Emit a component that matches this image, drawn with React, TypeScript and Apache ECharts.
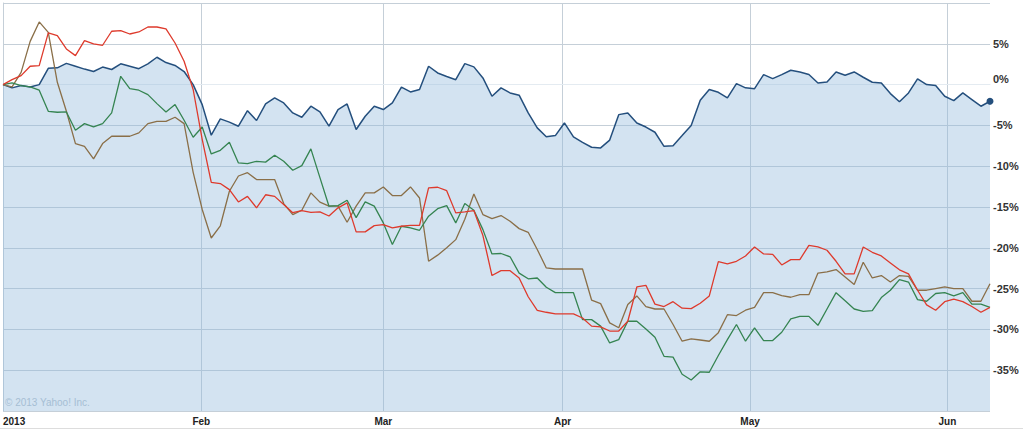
import React, { useEffect, useRef } from "react";
import * as echarts from "echarts";

// Percent change series, one value per trading day (first point = start of 2013)
const blueSeries = [
  0, -0.4, -0.1, -0.3, 0, 2.0, 2.05, 2.6, 2.25, 1.9,
  1.6, 2.15, 1.85, 2.55, 2.25, 1.95, 2.55, 3.35, 2.7, 2.35,
  1.6, 0, -2.45, -6.2, -4.2, -4.6, -5.1, -3.2, -4.4, -2.37,
  -1.63, -2.25, -3.47, -4.0, -2.65, -3.35, -5.1, -3.06, -2.37, -5.5,
  -3.88, -2.65, -3.06, -2.25, -0.3, -0.9, -0.6, 2.25, 1.43, 1.0,
  0.6, 2.57, 2.17, 0.82, -1.43, -0.4, -1.02, -1.3, -3.47, -5.3,
  -6.4, -6.25, -4.7, -6.4, -7.07, -7.68, -7.76, -6.8, -3.68, -3.47,
  -4.7, -5.2, -5.84, -7.56, -7.48, -6.25, -5.0, -1.92, -0.61, -0.94,
  -1.63, 0.12, -0.4, -0.5, 1.23, 0.74, 1.23, 1.76, 1.55, 1.23,
  0.2, 0.33, 1.55, 1.14, 1.55, 0.9, 0.29, 0.2, -1.1, -2.1,
  -1.02, 0.7, 0, -0.12, -1.43, -1.96, -1.02, -1.84, -2.65, -2.04,
];

const redSeries = [
  0, 0.61, 1.1, 2.25, 2.33, 6.33, 6.0, 4.37, 3.55, 5.39,
  4.98, 4.82, 6.54, 6.62, 6.2, 6.45, 7.06, 7.06, 6.82, 5.1,
  2.86, -0.6, -6.7, -11.97, -12.13, -12.87, -14.38, -13.7, -15.1, -13.5,
  -13.7, -14.7, -15.7, -15.44, -15.65, -15.6, -16.1, -15.1, -14.5, -18.05,
  -18.05, -17.28, -17.16, -17.56, -17.36, -17.24, -17.24, -12.66, -12.58, -13.0,
  -15.72, -15.6, -15.44, -18.5, -23.4, -22.8, -22.8, -23.7, -26.0, -27.66,
  -27.9, -28.1, -28.1, -28.1, -28.6, -29.6, -29.7, -30.2, -30.2, -29.0,
  -24.8, -24.6, -26.9, -27.2, -26.6, -27.4, -27.45, -26.8, -25.9, -21.7,
  -21.97, -21.65, -21.0, -19.9, -20.75, -20.8, -22.1, -21.45, -21.45, -19.7,
  -19.9, -20.3, -21.65, -23.2, -23.2, -19.9, -20.55, -21.0, -21.85, -22.7,
  -23.2, -25.2, -27.0, -27.66, -26.6, -26.3, -26.6, -27.2, -27.9, -27.3,
];

const greenSeries = [
  0, 0.2, -0.12, -0.29, -0.69, -3.27, -3.39, -3.35, -5.6, -4.78,
  -5.19, -4.78, -3.47, 1.02, -0.49, -0.69, -1.23, -2.33, -3.35, -2.45,
  -4.37, -6.45, -5.19, -8.5, -8.05, -7.07, -9.6, -9.68, -9.4, -9.5,
  -8.66, -9.4, -10.5, -9.93, -7.88, -11.4, -14.9, -14.83, -14.17, -16.3,
  -14.38, -14.9, -16.95, -19.6, -17.36, -17.56, -17.85, -16.13, -15.2, -14.83,
  -16.95, -14.58, -15.4, -17.77, -20.75, -20.7, -21.1, -23.1, -23.8, -23.7,
  -24.84, -25.5, -25.5, -25.5, -28.8, -28.8, -29.6, -31.66, -31.25, -29.0,
  -29.0, -29.95, -30.97, -33.3, -33.4, -35.5, -36.2, -35.2, -35.25, -33.2,
  -31.25, -29.4, -31.45, -29.8, -31.37, -31.37, -30.35, -28.7, -28.4, -28.4,
  -29.5, -27.5, -25.5, -26.5, -27.5, -27.8, -27.7, -26.1, -25.2, -23.9,
  -24.2, -26.35, -26.55, -25.6, -25.5, -25.9, -25.5, -26.9, -26.9, -27.3,
];

const brownSeries = [
  0, -0.29, 1.5, 5.3, 7.68, 6.4, 0.28, -3.27, -7.23, -7.56,
  -9.1, -7.23, -6.33, -6.33, -6.33, -5.92, -4.78, -4.5, -4.5, -4.0,
  -4.78, -10.75, -15.3, -18.8, -17.3, -13.07, -11.2, -10.8, -11.64, -11.64,
  -11.64, -14.58, -15.93, -15.4, -13.27, -14.4, -14.9, -14.9, -16.87, -14.9,
  -13.27, -13.27, -12.54, -13.6, -13.6, -12.54, -13.9, -21.65, -20.9, -20.0,
  -19.0, -16.5, -13.4, -15.93, -16.42, -16.05, -16.75, -17.65, -18.1, -20.2,
  -22.47, -22.6, -22.6, -22.6, -22.6, -26.4, -26.84, -29.2, -29.8, -26.96,
  -25.9, -27.2, -27.5, -27.5, -29.4, -31.45, -31.17, -31.3, -31.45, -30.4,
  -28.2, -28.3, -27.65, -27.3, -25.5, -25.5, -25.86, -26.06, -25.74, -25.74,
  -23.1, -22.95, -22.67, -23.57, -24.5, -21.77, -23.7, -23.4, -24.2, -23.4,
  -23.5, -25.2, -25.2, -25.0, -24.8, -25.0, -25.0, -26.55, -26.55, -24.4,
];

// Month ticks (position in trading-day index units) and their labels
const monthTicks = [0, 21.9, 42, 61.8, 82.5, 104.3];
const monthLabels = ["2013", "Feb", "Mar", "Apr", "May", "Jun"];

// Y axis tick labels shown
const yTicksShown = [5, 0, -5, -10, -15, -20, -25, -30, -35];

const BLUE = "#244f7d";
const RED = "#de3a2c";
const GREEN = "#358451";
const BROWN = "#8a6f48";

const toPoints = (arr: number[]) => arr.map((v, i) => [i, v]);

export default function App() {
  const ref = useRef<HTMLDivElement>(null);

  useEffect(() => {
    if (!ref.current) return;
    const chart = echarts.init(ref.current, null, { renderer: "svg" });
    const lastIdx = blueSeries.length - 1;
    const font = "'Liberation Sans', Arial, sans-serif";

    chart.setOption({
      animation: false,
      backgroundColor: "#ffffff",
      grid: { left: 1, right: 33, top: 3, bottom: 18, containLabel: false },
      xAxis: {
        type: "value",
        min: 0,
        max: lastIdx,
        axisLine: { show: true, lineStyle: { color: "#e4ebf1", width: 1 } },
        axisTick: { show: false, customValues: monthTicks },
        splitLine: { show: true, lineStyle: { color: "#c5cfd8", width: 1 } },
        axisLabel: {
          customValues: monthTicks,
          alignMinLabel: "left",
          margin: 5,
          fontFamily: font,
          fontSize: 10,
          fontWeight: "bold",
          color: "#222222",
          formatter: (v: number) => {
            const k = monthTicks.findIndex((m) => Math.abs(m - v) < 1e-6);
            return k >= 0 ? monthLabels[k] : "";
          },
        },
      },
      yAxis: {
        type: "value",
        position: "right",
        min: -40,
        max: 10,
        interval: 5,
        axisLine: { show: true, lineStyle: { color: "#c5cfd8", width: 1 } },
        axisTick: { show: false },
        splitLine: { show: true, lineStyle: { color: "#c5cfd8", width: 1 } },
        axisLabel: {
          margin: 3,
          align: "left",
          fontFamily: font,
          fontSize: 11,
          fontWeight: "bold",
          color: "#333333",
          formatter: (v: number) => {
            if (!yTicksShown.includes(v)) return "";
            if (v === 0) return "{z|0%}";
            return v + "%";
          },
          rich: {
            z: {
              fontFamily: font,
              fontSize: 11,
              fontWeight: "bold",
              color: "#333333",
              padding: [0, 0, 12, 0],
            },
          },
        },
      },
      graphic: [
        {
          type: "text",
          left: 5,
          top: 397,
          silent: true,
          style: {
            text: "© 2013 Yahoo! Inc.",
            fill: "#b3c2ce",
            font: "10px 'Liberation Sans', Arial, sans-serif",
          },
        },
        {
          type: "line",
          silent: true,
          shape: { x1: 0, y1: 428.5, x2: 1023, y2: 428.5 },
          style: { stroke: "#dddddd", lineWidth: 1 },
        },
      ],
      series: [
        {
          name: "blue",
          type: "line",
          data: toPoints(blueSeries),
          showSymbol: false,
          lineStyle: { color: BLUE, width: 1.5 },
          itemStyle: { color: BLUE },
          areaStyle: { color: "rgba(146,186,220,0.4)", opacity: 1, origin: "start" },
          z: 2,
        },
        {
          name: "brown",
          type: "line",
          data: toPoints(brownSeries),
          showSymbol: false,
          lineStyle: { color: BROWN, width: 1.3 },
          itemStyle: { color: BROWN },
          z: 3,
        },
        {
          name: "green",
          type: "line",
          data: toPoints(greenSeries),
          showSymbol: false,
          lineStyle: { color: GREEN, width: 1.3 },
          itemStyle: { color: GREEN },
          z: 4,
        },
        {
          name: "red",
          type: "line",
          data: toPoints(redSeries),
          showSymbol: false,
          lineStyle: { color: RED, width: 1.3 },
          itemStyle: { color: RED },
          z: 5,
        },
        {
          name: "last",
          type: "scatter",
          data: [[lastIdx, blueSeries[lastIdx]]],
          symbolSize: 7,
          itemStyle: { color: BLUE, opacity: 1 },
          z: 6,
        },
      ],
    });

    return () => chart.dispose();
  }, []);

  return (
    <div
      ref={ref}
      style={{ position: "fixed", left: 0, top: 0, width: 1023, height: 429 }}
    />
  );
}
